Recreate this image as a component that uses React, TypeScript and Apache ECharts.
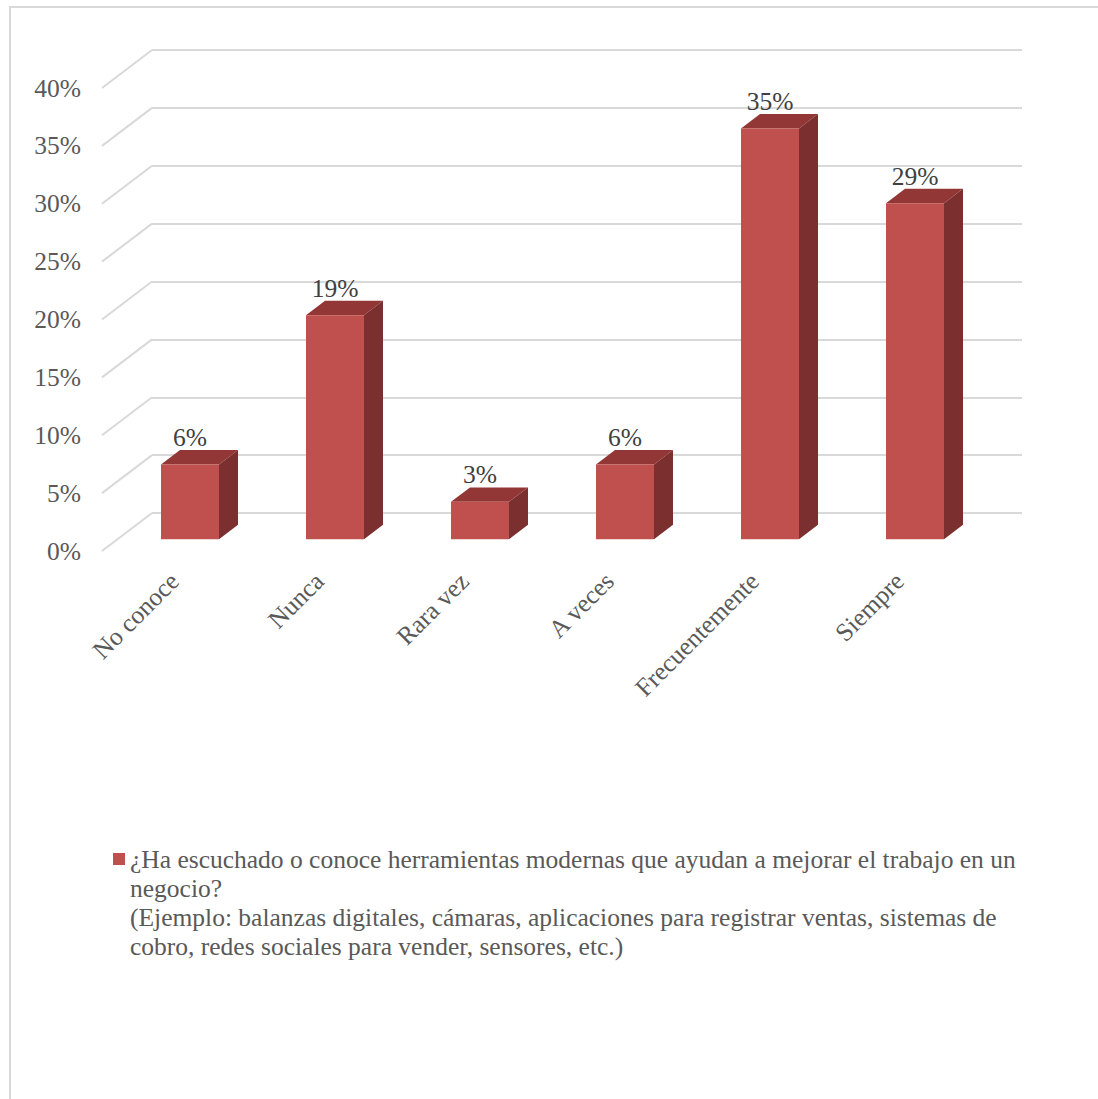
import React, { useEffect, useRef } from "react";
import * as echarts from "echarts";

const categories = ["No conoce", "Nunca", "Rara vez", "A veces", "Frecuentemente", "Siempre"];
const values = [6.45, 19.35, 3.23, 6.45, 35.48, 29.03];
const yTicks = [0, 5, 10, 15, 20, 25, 30, 35, 40];
const seriesName =
  "¿Ha escuchado o conoce herramientas modernas que ayudan a mejorar el trabajo en un\nnegocio?\n(Ejemplo: balanzas digitales, cámaras, aplicaciones para registrar ventas, sistemas de\ncobro, redes sociales para vender, sensores, etc.)";

const FONT = "'Liberation Serif', 'DejaVu Serif', serif";
const FS = 25.5;
const DEPTH_X = 50;
const DEPTH_Y = -38;
const BAR_FRONT = 0.31;
const BAR_DEPTH = 0.38;
const PLOT_W = 870;
const PLOT_H = 463;
const FRONT_LEFT = 102;
const FRONT_TOP = 88;
const LINE_H = 29;

export default function App() {
  const ref = useRef<HTMLDivElement>(null);
  useEffect(() => {
    const chart = echarts.init(ref.current!, null, { renderer: "svg" });
    const grids = [
      { left: FRONT_LEFT, top: FRONT_TOP, width: PLOT_W, height: PLOT_H },
      { left: FRONT_LEFT + DEPTH_X, top: FRONT_TOP + DEPTH_Y, width: PLOT_W, height: PLOT_H },
      {
        left: FRONT_LEFT + BAR_FRONT * DEPTH_X,
        top: FRONT_TOP + BAR_FRONT * DEPTH_Y,
        width: PLOT_W,
        height: PLOT_H,
      },
    ];
    const option: any = {
      animation: false,
      backgroundColor: "#ffffff",
      textStyle: { fontFamily: FONT },
      grid: grids,
      xAxis: [0, 1, 2].map((i) => ({
        type: "category",
        gridIndex: i,
        data: categories,
        axisLine: { show: false },
        axisTick: { show: false },
        splitLine: { show: false },
        axisLabel:
          i === 0
            ? {
                show: true,
                rotate: 45,
                interval: 0,
                margin: 26,
                color: "#595959",
                fontFamily: FONT,
                fontSize: FS,
              }
            : { show: false },
      })),
      yAxis: [0, 1, 2].map((i) => ({
        type: "value",
        gridIndex: i,
        min: 0,
        max: 40,
        interval: 5,
        axisLine: { show: false },
        axisTick: { show: false },
        splitLine: { show: i === 1, lineStyle: { color: "#D9D9D9", width: 2 } },
        axisLabel:
          i === 0
            ? {
                show: true,
                formatter: "{value}%",
                margin: 21,
                color: "#595959",
                fontFamily: FONT,
                fontSize: FS,
              }
            : { show: false },
      })),
      legend: {
        data: [seriesName],
        left: 113,
        top: 859 - (7 * LINE_H) / 2,
        padding: 0,
        icon: "rect",
        itemWidth: 12,
        itemHeight: 12,
        selectedMode: false,
        formatter: (name: string) => "\n\n\n" + name,
        textStyle: {
          fontFamily: FONT,
          fontSize: FS,
          color: "#595959",
          lineHeight: LINE_H,
        },
      },
      graphic: [
        {
          type: "rect",
          shape: { x: 10, y: 7, width: 1300, height: 1300 },
          style: { fill: "none", stroke: "#D9D9D9", lineWidth: 2 },
          silent: true,
          z: -10,
        },
      ],
      series: [
        {
          type: "custom",
          name: "wallEdges",
          xAxisIndex: 0,
          yAxisIndex: 0,
          silent: true,
          data: yTicks.map((v) => [0, v]),
          renderItem: (_p: any, api: any) => {
            const pt = api.coord([0, api.value(1)]);
            const bw = api.size([1, 0])[0];
            const x0 = pt[0] - bw / 2;
            return {
              type: "line",
              shape: { x1: x0, y1: pt[1], x2: x0 + DEPTH_X, y2: pt[1] + DEPTH_Y },
              style: { stroke: "#D9D9D9", lineWidth: 2 },
            };
          },
        },
        {
          type: "custom",
          name: "barFaces",
          xAxisIndex: 2,
          yAxisIndex: 2,
          silent: true,
          z: 3,
          data: values.map((v, i) => [i, v]),
          renderItem: (_p: any, api: any) => {
            const idx = api.value(0);
            const v = api.value(1);
            const top = api.coord([idx, v]);
            const base = api.coord([idx, 0]);
            const bw = api.size([1, 0])[0] * 0.4;
            const xl = top[0] - bw / 2;
            const xr = top[0] + bw / 2;
            const dx = BAR_DEPTH * DEPTH_X;
            const dy = BAR_DEPTH * DEPTH_Y;
            return {
              type: "group",
              children: [
                {
                  type: "polygon",
                  shape: {
                    points: [
                      [xl, top[1]],
                      [xl + dx, top[1] + dy],
                      [xr + dx, top[1] + dy],
                      [xr, top[1]],
                    ],
                  },
                  style: { fill: "#923735" },
                },
                {
                  type: "polygon",
                  shape: {
                    points: [
                      [xr, top[1]],
                      [xr + dx, top[1] + dy],
                      [xr + dx, base[1] + dy],
                      [xr, base[1]],
                    ],
                  },
                  style: { fill: "#7B2F2E" },
                },
              ],
            };
          },
        },
        {
          type: "bar",
          name: seriesName,
          xAxisIndex: 2,
          yAxisIndex: 2,
          barWidth: "40%",
          z: 4,
          itemStyle: { color: "#C0504D" },
          data: values,
          label: {
            show: true,
            position: "top",
            distance: 14,
            formatter: (p: any) => Math.round(p.value) + "%",
            color: "#404040",
            fontFamily: FONT,
            fontSize: FS,
          },
        },
      ],
    };
    chart.setOption(option);
    return () => chart.dispose();
  }, []);
  return (
    <div
      ref={ref}
      style={{ position: "fixed", left: 0, top: 0, width: 1098, height: 1099 }}
    />
  );
}
